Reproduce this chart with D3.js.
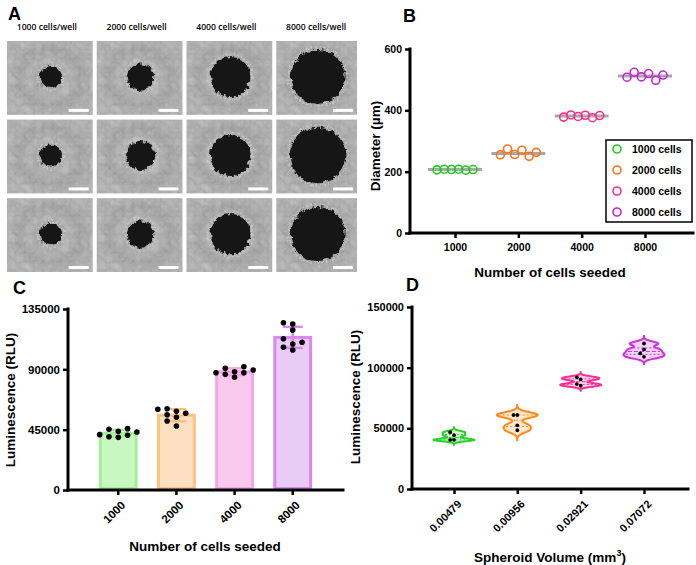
<!DOCTYPE html>
<html>
<head>
<meta charset="utf-8">
<script src="https://cdn.jsdelivr.net/npm/d3@7"></script>
<style>
  html, body { margin: 0; padding: 0; background: #fff; }
  svg { display: block; font-family: "Liberation Sans", Arial, sans-serif; }
</style>
</head>
<body>
<svg id="fig" width="696" height="565"></svg>
<script>
// ---- data ----
const cellCounts = ["1000", "2000", "4000", "8000"];
const headerLabels = ["1000 cells/well", "2000 cells/well", "4000 cells/well", "8000 cells/well"];
const legendLabels = ["1000 cells", "2000 cells", "4000 cells", "8000 cells"];

// B: spheroid diameter (um), 6 replicates each
const diameter1000 = [206, 208, 207, 208, 205, 207];
const diameter2000 = [255, 274, 256, 270, 250, 263];
const diameter4000 = [378, 385, 380, 384, 376, 383];
const diameter8000 = [508, 524, 509, 520, 498, 515];
const diameterTicks = [0, 200, 400, 600];

// C: luminescence (RLU), 8 replicates each
const lum1000 = [39750, 43250, 45270, 40800, 45770, 41280, 43770, 39270];
const lum2000 = [60180, 58690, 54220, 57200, 51470, 47740, 60640, 56170];
const lum4000 = [86270, 88240, 90730, 87500, 91970, 87500, 89500, 84060];
const lum8000 = [124780, 123810, 119340, 110160, 108890, 112850, 104420, 106430];
const lumTicksC = [0, 45000, 90000, 135000];

// D: luminescence vs spheroid volume
const volumes = ["0.00479", "0.00956", "0.02921", "0.07072"];
const volLum1 = [46800, 44300, 40500, 40500];
const volLum2 = [61000, 61000, 52500, 48400];
const volLum3 = [90300, 92000, 85100, 86500];
const volLum4 = [119900, 115000, 111700, 108900];
const lumTicksD = [0, 50000, 100000, 150000];

const markColors = ["#22cc22", "#ff7216", "#ff2b8c", "#c424d4"];
const barFills = ["#c8f7c0", "#fde0c2", "#fcc9ee", "#eacbf8"];
const barStrokes = ["#a4f09a", "#ffc080", "#f6a6e6", "#da88f0"];
const violinColors = ["#2bd12b", "#ff8a1a", "#ff2e93", "#cc33dd"];

const diameters = [diameter1000, diameter2000, diameter4000, diameter8000];
const lumC = [lum1000, lum2000, lum4000, lum8000];
const lumD = [volLum1, volLum2, volLum3, volLum4];

const svg = d3.select("#fig");
const defs = svg.append("defs");
const intFmt = d3.format("d");

// ---- helpers ----
const styleAxis = (g, fontSize) => {
  g.select(".domain").remove();
  g.selectAll(".tick line").attr("stroke", "#000").attr("stroke-width", 2.5);
  g.selectAll(".tick text")
    .attr("fill", "#000")
    .attr("font-size", fontSize)
    .attr("font-weight", "bold")
    .attr("font-family", "Liberation Sans, Arial, sans-serif");
};

const axisLine = (x1, y1, x2, y2) =>
  svg.append("line")
    .attr("x1", x1).attr("y1", y1).attr("x2", x2).attr("y2", y2)
    .attr("stroke", "#000").attr("stroke-width", 3)
    .attr("stroke-linecap", "square");

const panelLetter = (txt, x, y) =>
  svg.append("text").attr("x", x).attr("y", y)
    .attr("font-size", 18).attr("font-weight", "bold").text(txt);

const title = (txt, x, y, rotate) => {
  const t = svg.append("text")
    .attr("text-anchor", "middle")
    .attr("font-size", 13.5)
    .attr("font-weight", "bold")
    .attr("transform", rotate ? `translate(${x},${y}) rotate(-90)` : `translate(${x},${y})`);
  return t.text(txt);
};

// simple column beeswarm: returns x offsets (in px) for values mapped by yScale
const swarm = (values, yScale, step, minDy) => {
  const order = values.map((v, i) => i).sort((a, b) => values[a] - values[b]);
  const placed = [];
  const offsets = new Array(values.length);
  const tries = [0, -1, 1, -2, 2, -3, 3, -4, 4];
  order.forEach((i) => {
    const yy = yScale(values[i]);
    for (const c of tries) {
      const hit = placed.some((p) => p.c === c && Math.abs(p.y - yy) < minDy);
      if (!hit) {
        placed.push({ c, y: yy });
        offsets[i] = c * step;
        break;
      }
    }
  });
  return offsets;
};

// ================= Panel A: spheroid micrographs =================
panelLetter("A", 8, 20);

const tileX = d3.scaleBand().domain(d3.range(4)).range([7, 362]).paddingInner(0.045);
const tileY = d3.scaleBand().domain(d3.range(3)).range([41, 272]).paddingInner(0.06);
const blobR = d3.scaleLinear().domain([0, 500]).range([0, 26.5]);

const bg = defs.append("radialGradient").attr("id", "wellGrad");
[[0, "#858585"], [0.28, "#9a9a9a"], [0.48, "#a8a8a8"], [0.75, "#979797"], [1, "#a6a6a6"]]
  .forEach(([o, c]) => bg.append("stop").attr("offset", o).attr("stop-color", c));

const noise = defs.append("filter").attr("id", "grain")
  .attr("x", 0).attr("y", 0).attr("width", 1).attr("height", 1);
noise.append("feTurbulence").attr("type", "turbulence")
  .attr("baseFrequency", 0.11).attr("numOctaves", 3).attr("seed", 4);
noise.append("feColorMatrix").attr("type", "matrix")
  .attr("values", "0 0 0 0 1  0 0 0 0 1  0 0 0 0 1  0.6 0.6 0 0 0");
noise.append("feComponentTransfer").append("feFuncA")
  .attr("type", "linear").attr("slope", 0.35);

const rough = defs.append("filter").attr("id", "rough")
  .attr("x", "-30%").attr("y", "-30%").attr("width", "160%").attr("height", "160%");
rough.append("feTurbulence").attr("type", "fractalNoise")
  .attr("baseFrequency", 0.22).attr("numOctaves", 3).attr("seed", 9).attr("result", "t");
rough.append("feDisplacementMap").attr("in", "SourceGraphic").attr("in2", "t")
  .attr("scale", 6).attr("xChannelSelector", "R").attr("yChannelSelector", "G");

cellCounts.forEach((c, col) => {
  svg.append("text")
    .attr("x", tileX(col) + tileX.bandwidth() / 2 - 3)
    .attr("y", 30)
    .attr("text-anchor", "middle")
    .attr("font-family", "Open Sans, sans-serif")
    .attr("font-weight", 600)
    .attr("font-size", 8.6)
    .text(headerLabels[col]);

  d3.range(3).forEach((row) => {
    const x0 = tileX(col), y0 = tileY(row);
    const w = Math.min(tileX.bandwidth(), 357 - x0), h = tileY.bandwidth();
    const g = svg.append("g").attr("transform", `translate(${x0},${y0})`);
    g.append("rect").attr("width", w).attr("height", h).attr("fill", "url(#wellGrad)");
    g.append("rect").attr("width", w).attr("height", h).attr("filter", "url(#grain)");
    const r = blobR(diameters[col][row]);
    g.append("circle")
      .attr("cx", w / 2 + 1).attr("cy", h / 2 - 1).attr("r", r + 2.5)
      .attr("fill", "none").attr("stroke", "#cfcfcf").attr("stroke-width", 2)
      .attr("stroke-dasharray", "2,2")
      .attr("opacity", 0.7).attr("filter", "url(#rough)");
    g.append("circle")
      .attr("cx", w / 2 + 1).attr("cy", h / 2 - 1).attr("r", r)
      .attr("fill", "#151515").attr("filter", "url(#rough)");
    g.append("rect")
      .attr("x", w - 24).attr("y", h - 6).attr("width", 20).attr("height", 3)
      .attr("fill", "#fff");
  });
});

// ================= Panel B: diameter =================
panelLetter("B", 403, 22);
const bLeft = 410, bRight = 693, bBottom = 233, bTop = 49;
const yB = d3.scaleLinear().domain([0, 600]).range([bBottom, bTop]);
const xB = d3.scalePoint().domain(cellCounts).range([455, 645]);

svg.append("g").attr("transform", `translate(${bLeft},0)`)
  .call(d3.axisLeft(yB).tickValues(diameterTicks).tickFormat(intFmt).tickSize(5).tickPadding(3))
  .call((g) => styleAxis(g, 10.5));
svg.append("g").attr("transform", `translate(0,${bBottom})`)
  .call(d3.axisBottom(xB).tickSize(5).tickPadding(6))
  .call((g) => styleAxis(g, 10.5));
axisLine(bLeft, bTop, bLeft, bBottom);
axisLine(bLeft, bBottom, bRight, bBottom);

cellCounts.forEach((c, i) => {
  const vals = diameters[i];
  const cx = xB(c);
  const med = d3.median(vals);
  svg.append("line")
    .attr("x1", cx - 27).attr("x2", cx + 27)
    .attr("y1", yB(med)).attr("y2", yB(med))
    .attr("stroke", "#a8a8a8").attr("stroke-width", 3);
  const spread = d3.scaleLinear().domain([0, vals.length - 1]).range([cx - 18, cx + 18]);
  svg.selectAll(null).data(vals).enter().append("circle")
    .attr("cx", (d, j) => spread(j))
    .attr("cy", (d) => yB(d))
    .attr("r", 4)
    .attr("fill", "none")
    .attr("stroke", markColors[i])
    .attr("stroke-width", 1.6);
});

title("Diameter (\u00b5m)", 380, 146, true);
title("Number of cells seeded", 550, 277, false);

// legend
const lg = svg.append("g");
lg.append("rect").attr("x", 606).attr("y", 140).attr("width", 86).attr("height", 82)
  .attr("fill", "#fff").attr("stroke", "#000").attr("stroke-width", 1.5);
legendLabels.forEach((l, i) => {
  const yy = 149 + i * 21;
  lg.append("circle").attr("cx", 617).attr("cy", yy).attr("r", 4)
    .attr("fill", "none").attr("stroke", markColors[i]).attr("stroke-width", 1.6);
  lg.append("text").attr("x", 632).attr("y", yy).attr("dy", "0.36em")
    .attr("font-size", 10.5).attr("font-weight", "bold").text(l);
});

// ================= Panel C: luminescence bars =================
panelLetter("C", 13, 294);
const cLeft = 68, cRight = 343, cBottom = 490, cTop = 309;
const yC = d3.scaleLinear().domain([0, 135000]).range([cBottom, cTop]);
const xC = d3.scaleBand().domain(cellCounts).range([79.5, 331.5]).padding(0.333);

svg.append("g").attr("transform", `translate(${cLeft},0)`)
  .call(d3.axisLeft(yC).tickValues(lumTicksC).tickFormat(intFmt).tickSize(5).tickPadding(3))
  .call((g) => styleAxis(g, 11.5));
svg.append("g").attr("transform", `translate(0,${cBottom})`)
  .call(d3.axisBottom(xC).tickSize(5))
  .call((g) => styleAxis(g, 11.5))
  .call((g) => g.selectAll(".tick text")
    .attr("x", 0).attr("y", 0).attr("dy", "0.35em")
    .attr("text-anchor", "end")
    .attr("transform", "translate(5,13) rotate(-45)"));

cellCounts.forEach((c, i) => {
  const vals = lumC[i];
  const m = d3.mean(vals), sd = d3.deviation(vals);
  const x0 = xC(c), bw = xC.bandwidth(), cx = x0 + bw / 2;
  svg.append("rect")
    .attr("x", x0 + 1.5).attr("y", yC(m))
    .attr("width", bw - 3).attr("height", cBottom - yC(m) - 1.5)
    .attr("fill", barFills[i]).attr("stroke", barStrokes[i]).attr("stroke-width", 3);
  const eg = svg.append("g").attr("stroke", barStrokes[i]).attr("stroke-width", 2.5);
  eg.append("line").attr("x1", cx).attr("x2", cx).attr("y1", yC(m - sd)).attr("y2", yC(m + sd));
  [m - sd, m + sd].forEach((v) =>
    eg.append("line").attr("x1", cx - 10).attr("x2", cx + 10).attr("y1", yC(v)).attr("y2", yC(v)));
  const offs = swarm(vals, yC, 9.3, 5.4);
  svg.selectAll(null).data(vals).enter().append("circle")
    .attr("cx", (d, j) => cx + offs[j])
    .attr("cy", (d) => yC(d))
    .attr("r", 2.8)
    .attr("fill", "#000");
});
axisLine(cLeft, cTop, cLeft, cBottom);
axisLine(cLeft, cBottom, cRight, cBottom);

title("Luminescence (RLU)", 15, 400, true);
title("Number of cells seeded", 205, 551, false);

// ================= Panel D: violins =================
panelLetter("D", 406, 291);
const dLeft = 412, dRight = 688, dBottom = 489, dTop = 307;
const yD = d3.scaleLinear().domain([0, 150000]).range([dBottom, dTop]);
const xD = d3.scalePoint().domain(volumes).range([454, 644]);

svg.append("g").attr("transform", `translate(${dLeft},0)`)
  .call(d3.axisLeft(yD).tickValues(lumTicksD).tickFormat(intFmt).tickSize(5).tickPadding(3))
  .call((g) => styleAxis(g, 11));
svg.append("g").attr("transform", `translate(0,${dBottom})`)
  .call(d3.axisBottom(xD).tickSize(5))
  .call((g) => styleAxis(g, 11))
  .call((g) => g.selectAll(".tick text")
    .attr("x", 0).attr("y", 0).attr("dy", "0.35em")
    .attr("text-anchor", "end")
    .attr("transform", "translate(5,13) rotate(-45)"));

const gauss = (u) => Math.exp(-0.5 * u * u);

volumes.forEach((v, i) => {
  const vals = lumD[i];
  const sorted = vals.slice().sort(d3.ascending);
  const bwK = 0.36 * d3.deviation(vals);
  const dens = (t) => d3.sum(vals, (d) => gauss((t - d) / bwK));
  const lo = d3.min(vals) - 3.6 * bwK, hi = d3.max(vals) + 3.6 * bwK;
  const grid = d3.range(0, 121).map((k) => lo + (hi - lo) * k / 120);
  const pts = grid.map((t) => ({ t, d: dens(t) }));
  const maxD = d3.max(pts, (p) => p.d);
  const wScale = d3.scaleLinear().domain([0, maxD]).range([0, 20.5]);
  const cx = xD(v);

  const area = d3.area()
    .y((p) => yD(p.t))
    .x0((p) => cx - wScale(p.d))
    .x1((p) => cx + wScale(p.d))
    .curve(d3.curveBasis);

  svg.append("path").datum(pts)
    .attr("d", area)
    .attr("fill", violinColors[i]).attr("fill-opacity", 0.2)
    .attr("stroke", violinColors[i]).attr("stroke-width", 2);

  [0.25, 0.5, 0.75].forEach((q) => {
    const qv = d3.quantile(sorted, q);
    const hw = wScale(dens(qv)) - 2;
    svg.append("line")
      .attr("x1", cx - hw).attr("x2", cx + hw)
      .attr("y1", yD(qv)).attr("y2", yD(qv))
      .attr("stroke", violinColors[i])
      .attr("stroke-width", 1)
      .attr("stroke-dasharray", q === 0.5 ? "4,2" : "2,2");
  });

  const offs = swarm(vals, yD, 3.8, 3.6);
  svg.selectAll(null).data(vals).enter().append("circle")
    .attr("cx", (d, j) => cx + offs[j])
    .attr("cy", (d) => yD(d))
    .attr("r", 1.9)
    .attr("fill", "#000");
});
axisLine(dLeft, dTop, dLeft, dBottom);
axisLine(dLeft, dBottom, dRight, dBottom);

title("Luminescence (RLU)", 360, 397, true);
const xt = title("", 550, 562, false);
xt.append("tspan").text("Spheroid Volume (mm");
xt.append("tspan").attr("font-size", 9).attr("dy", -6).text("3");
xt.append("tspan").attr("dy", 6).text(")");
</script>
</body>
</html>
